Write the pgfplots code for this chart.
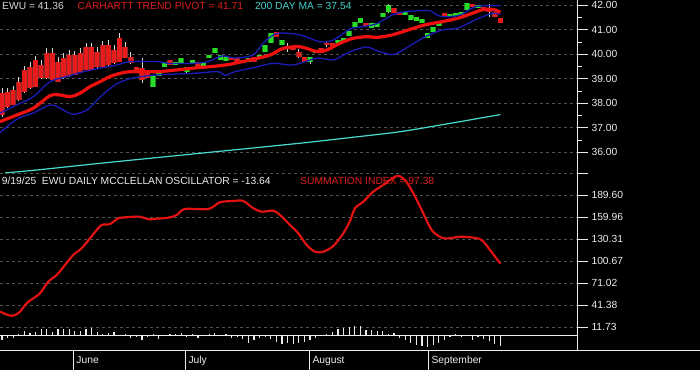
\documentclass[border=0pt]{standalone}
\usepackage{pgfplots}
\pgfplotsset{compat=1.18}
\usepackage{pgfplotstable}
\usepackage{fontspec}
\setmainfont{Liberation Sans}
\definecolor{cRed}{RGB}{230,28,28}
\definecolor{cRedDark}{RGB}{140,40,40}
\definecolor{cGreen}{RGB}{40,220,40}
\definecolor{cGreenDark}{RGB}{20,140,30}
\definecolor{wickGray}{RGB}{215,215,215}
\definecolor{bandBlue}{RGB}{28,28,185}
\definecolor{trendRed}{RGB}{240,16,16}
\definecolor{maCyan}{RGB}{72,220,208}
\definecolor{sumRed}{RGB}{225,18,18}
\definecolor{gridGray}{RGB}{80,80,80}
\definecolor{tickWhite}{RGB}{235,235,235}
\definecolor{lblGray}{RGB}{215,215,215}
\definecolor{lblRed}{RGB}{224,30,30}
\definecolor{lblCyan}{RGB}{70,210,205}
\newcommand\cf{\fontsize{10.3bp}{12bp}\selectfont}

\pgfplotstableread{
i lo hi
0 37.52 38.42
1 37.85 38.46
2 37.93 38.54
3 38.13 38.87
4 38.46 39.36
5 38.62 39.48
6 38.67 39.77
7 39.03 39.56
8 39.03 40.05
9 38.95 40.05
10 38.87 39.69
11 39.03 39.85
12 39.11 39.97
13 39.16 39.97
14 39.28 40.05
15 39.36 40.30
16 39.36 40.30
17 39.48 40.09
18 39.48 40.38
19 39.56 40.38
20 39.64 40.18
21 39.69 40.67
22 39.85 40.30
23 39.64 39.89
24 39.28 39.48
25 38.95 39.44
26 39.03 39.28
30 39.56 39.77
35 39.44 39.69
41 39.77 39.89
42 39.64 39.85
45 39.69 39.89
49 40.71 40.91
51 40.22 40.34
52 40.18 40.30
53 39.89 40.09
54 39.69 39.89
57 40.05 40.26
58 40.38 40.46
59 40.34 40.46
65 41.15 41.28
70 41.69 41.89
71 41.60 41.73
79 41.52 41.69
84 41.93 42.05
86 41.81 41.93
87 41.73 41.89
88 41.52 41.73
89 41.28 41.48
}\redtab

\pgfplotstableread{
i lo hi
27 38.67 39.11
28 39.11 39.24
29 39.48 39.69
31 39.56 39.69
32 39.64 39.85
33 39.28 39.48
34 39.64 39.77
36 39.48 39.69
37 39.85 39.97
38 40.05 40.26
39 39.77 39.97
40 39.73 39.89
43 39.64 39.77
44 39.69 39.85
46 39.85 39.97
47 40.09 40.38
48 40.46 40.87
50 40.38 40.58
55 39.69 39.89
56 40.05 40.18
60 40.46 40.58
61 40.50 40.67
62 40.75 40.95
63 41.11 41.32
64 41.28 41.48
66 41.07 41.28
67 41.11 41.28
68 41.52 41.69
69 41.73 42.01
72 41.60 41.73
73 41.40 41.60
74 41.36 41.52
75 41.28 41.44
76 40.67 40.87
77 40.91 41.11
78 41.15 41.32
80 41.52 41.65
81 41.56 41.69
82 41.60 41.73
83 41.81 42.09
85 41.89 42.01
}\greentab

\pgfplotstableread{
i lo hi
0 37.46 38.62
1 37.82 38.64
2 37.91 38.72
3 38.11 39.07
4 38.44 39.54
5 38.60 39.68
6 38.65 39.95
7 39.01 39.76
8 39.01 40.24
9 38.93 40.24
10 38.86 39.88
11 39.01 40.04
12 39.09 40.16
13 39.14 40.15
14 39.26 40.24
15 39.34 40.48
16 39.34 40.46
17 39.46 40.28
18 39.46 40.56
19 39.54 40.57
20 39.62 40.37
21 39.67 40.86
22 39.83 40.50
23 39.60 40.08
25 38.83 39.85
33 39.24 39.50
51 40.09 40.46
53 39.85 40.22
55 39.60 39.89
58 40.30 40.50
69 41.69 42.05
87 41.52 42.05
}\wicktab

\pgfplotstableread{
i v
0 -6
1 -3
2 -3
3 3
4 7
5 4
6 6
7 9
8 10
9 6
10 9
11 10
12 10
13 7
14 7
15 9
16 11
17 5
18 3
19 4
20 6
21 1
22 2
23 -3
24 -2
25 -5
26 -1
27 3
28 -4
29 1
30 3
31 3
32 4
33 -2
34 2
35 -3
36 1.5
37 3
38 4.5
39 1.5
40 2.5
41 -3
42 -1
43 -4.5
44 -9
45 -6
46 -3
47 -2
48 -4.5
49 -7.5
50 -11
51 -10
52 -11
53 -10
54 -7.5
55 -5.5
56 -3
57 1
58 3
59 6
60 9
61 11
62 12
63 13
64 13.5
65 8
66 7.5
67 7
68 6.5
69 2
70 3.5
71 -3
72 -6
73 -10
74 -12.5
75 -14
76 -14.5
77 -12
78 -9
79 -5.5
80 -0.5
81 2.5
82 -2
83 1.5
84 -5
85 -1
86 -4
87 -6.5
88 -10.5
89 -13.64
}\osctab

\pgfplotsset{
  panel/.style={
    scale only axis, width=577bp,
    xmin=-0.357, xmax=102.68,
    axis x line=none, axis y line=right,
    y axis line style={-, draw=tickWhite, line width=1bp},
    tick align=outside, major tick length=11bp, minor tick length=5bp,
    minor y tick num=1,
    ytick style={draw=tickWhite, line width=1bp, solid},
    ymajorgrids,
    major grid style={draw=gridGray, dash pattern=on 3bp off 3bp, line width=0.8bp},
    yticklabel style={font=\cf, text=tickWhite},
  },
}

\begin{document}
\begin{tikzpicture}
\fill[black] (0,0) rectangle (700bp,370bp);
\useasboundingbox (0,0) rectangle (700bp,370bp);

% ---------- price panel ----------
\begin{axis}[panel, at={(0bp,195.7bp)}, anchor=south west, height=174.3bp,
  ymin=35.102, ymax=42.216,
  ytick={36,37,38,39,40,41,42},
  yticklabels={36.00,37.00,38.00,39.00,40.00,41.00,42.00}]
% wicks
\addplot[wickGray, solid, line width=0.8bp, line cap=butt, mark=none,
  quiver={u=0, v=\thisrow{hi}-\thisrow{lo}}]
  table[x=i, y=lo] {\wicktab};
% bodies (dark edge, then bright core)
\addplot[cRedDark, solid, line width=5.5bp, line cap=butt, mark=none,
  quiver={u=0, v=\thisrow{hi}-\thisrow{lo}}]
  table[x=i, y=lo] {\redtab};
\addplot[cRed, solid, line width=4.3bp, line cap=butt, mark=none,
  quiver={u=0, v=\thisrow{hi}-\thisrow{lo}}]
  table[x=i, y=lo] {\redtab};
\addplot[cGreenDark, solid, line width=5.5bp, line cap=butt, mark=none,
  quiver={u=0, v=\thisrow{hi}-\thisrow{lo}}]
  table[x=i, y=lo] {\greentab};
\addplot[cGreen, solid, line width=4.3bp, line cap=butt, mark=none,
  quiver={u=0, v=\thisrow{hi}-\thisrow{lo}}]
  table[x=i, y=lo] {\greentab};
% upper band
\addplot[bandBlue, solid, line width=1.3bp, smooth] coordinates {
(-0.36,37.60) (2.63,37.93) (5.59,38.27) (8.57,38.88) (11.55,39.09) (14.52,39.29)
(17.5,39.43) (20.48,39.56) (22.86,39.70) (27.86,39.70) (29.64,39.63) (33.93,39.63)
(36.79,39.70) (39.29,39.93) (41.61,39.85) (44.82,39.97) (46.61,40.45) (49.11,40.85)
(53.21,40.79) (56.79,40.51) (59.11,40.58) (62.14,41.03) (64.46,41.13) (66.96,41.25)
(69.64,41.60) (71.96,41.74) (74.64,41.78) (76.43,41.78) (77.68,41.60) (79.11,41.53)
(81.79,41.60) (84.46,41.94) (87.14,41.98) (89.0,41.98)};
% lower band
\addplot[bandBlue, solid, line width=1.3bp, smooth] coordinates {
(-0.36,36.80) (1.43,37.15) (3.21,37.42) (5.54,37.60) (8.57,37.93) (10.36,37.80)
(12.68,37.55) (15.18,37.73) (16.96,38.13) (18.75,38.50) (20.54,38.80) (22.5,38.98)
(24.64,39.08) (27.86,39.16) (33.93,39.22) (38.57,39.29) (39.82,39.14) (41.61,39.29)
(44.82,39.45) (48.39,39.63) (51.43,39.56) (53.21,39.63) (56.25,39.84) (59.11,39.77)
(61.25,40.00) (63.04,40.18) (65.18,40.30) (66.61,40.18) (68.39,40.04) (70.18,40.00)
(72.5,40.30) (75.54,40.71) (78.57,40.99) (81.43,41.07) (84.46,41.40) (87.5,41.67)
(89.0,41.62)};
% Carhartt trend pivot
\addplot[trendRed, solid, line width=3.2bp, smooth] coordinates {
(-0.36,37.25) (2.63,37.52) (5.59,37.80) (8.57,38.31) (10.36,38.34) (12.14,38.27)
(13.93,38.41) (15.71,38.68) (17.5,38.88) (19.29,39.09) (21.07,39.22) (22.86,39.29)
(27.86,39.29) (33.93,39.43) (39.82,39.56) (44.29,39.77) (47.86,39.97) (50.18,40.24)
(53.21,40.31) (56.25,40.11) (58.04,40.18) (60.36,40.45) (62.68,40.65) (65.18,40.72)
(66.96,40.69) (69.64,40.79) (72.5,40.99) (75.54,41.20) (78.57,41.33) (81.43,41.47)
(83.93,41.67) (85.71,41.81) (87.14,41.84) (88.2,41.80) (89,41.71)};
% 200 day MA
\addplot[maCyan, solid, line width=1.2bp, smooth] coordinates {
(0.54,35.16) (5.89,35.27) (17.5,35.55) (35.36,35.96) (53.21,36.37) (62.14,36.60)
(71.07,36.84) (80,37.18) (89,37.54)};
\end{axis}

% ---------- oscillator / summation panel ----------
\begin{axis}[panel, at={(0bp,20bp)}, anchor=south west, height=176.7bp,
  ymin=-18.9, ymax=219.24,
  ytick={11.73,41.38,71.02,100.67,130.31,159.96,189.60,219.24},
  yticklabels={11.73,41.38,71.02,100.67,130.31,159.96,189.60,{}}]
\addplot[tickWhite, solid, line width=1bp] coordinates {(-0.357,0) (102.68,0)};
\addplot[ycomb, tickWhite, solid, line width=1.3bp] table[x=i, y=v] {\osctab};
\addplot[sumRed, solid, line width=2.2bp, smooth] coordinates {
(-0.36,32.7) (1.43,27.4) (2.32,28.3) (3.21,32.7) (4.41,44.1) (5.59,50.8) (6.79,57.5)
(8.27,73.2) (9.77,82.2) (11.25,95.7) (12.73,109.2) (14.23,118.2) (15.71,131.7)
(16.91,142.8) (17.80,149.6) (19.29,150.9) (20.77,158.6) (22.27,160.0) (24.64,160.8)
(26.13,157.3) (27.63,158.1) (29.70,159.4) (31.20,163.0) (32.68,171.1) (36.84,171.1)
(38.93,180.2) (41.30,181.9) (43.09,181.9) (44.88,172.1) (46.38,167.5) (48.45,168.9)
(49.64,163.0) (51.43,149.6) (52.91,138.4) (54.41,122.6) (55.89,113.6) (57.38,113.6)
(59.16,121.3) (60.95,138.4) (62.14,155.0) (63.04,172.1) (64.52,181.0) (66.30,194.5)
(68.09,203.5) (70.48,215.6) (71.96,210.2) (73.45,192.3) (74.95,169.8) (76.73,142.8)
(78.52,132.5) (80,131.7) (81.79,133.8) (84.16,132.5) (85.66,129.4) (87.14,115.9)
(89,97.38)};
\end{axis}

% ---------- date strip ----------
\begin{axis}[at={(0bp,0bp)}, anchor=south west, scale only axis,
  width=700bp, height=20bp, xmin=-0.357, xmax=124.64, ymin=0, ymax=1,
  axis line style={draw=none}, ytick=\empty,
  xtick={12.73,32.74,54.88,76.13},
  xticklabels={June,July,August,September},
  major tick length=0pt,
  xmajorgrids, major grid style={draw=tickWhite, solid, line width=1bp},
  xticklabel style={font=\cf, text=tickWhite, anchor=base west, inner sep=0pt, xshift=3bp, yshift=6.7bp},
  after end axis/.code={\draw[tickWhite, line width=1bp] (rel axis cs:0,1) -- (rel axis cs:1,1);}]
\end{axis}

% ---------- titles ----------
\fill[black] (0bp,358bp) rectangle (360bp,370bp);
\node[anchor=base west, inner sep=0pt, text=lblGray, font=\cf] at (2bp,360.5bp) {EWU = 41.36};
\node[anchor=base west, inner sep=0pt, text=lblRed, font=\cf] at (77.5bp,360.5bp) {CARHARTT TREND PIVOT = 41.71};
\node[anchor=base west, inner sep=0pt, text=lblCyan, font=\cf] at (255bp,360.5bp) {200 DAY MA = 37.54};
\node[anchor=base west, inner sep=0pt, text=tickWhite, font=\cf] at (1.7bp,185bp) {9/19/25\ \ EWU DAILY MCCLELLAN OSCILLATOR = -13.64};
\node[anchor=base west, inner sep=0pt, text=lblRed, font=\cf] at (300bp,185bp) {SUMMATION INDEX = 97.38};
\end{tikzpicture}
\end{document}
